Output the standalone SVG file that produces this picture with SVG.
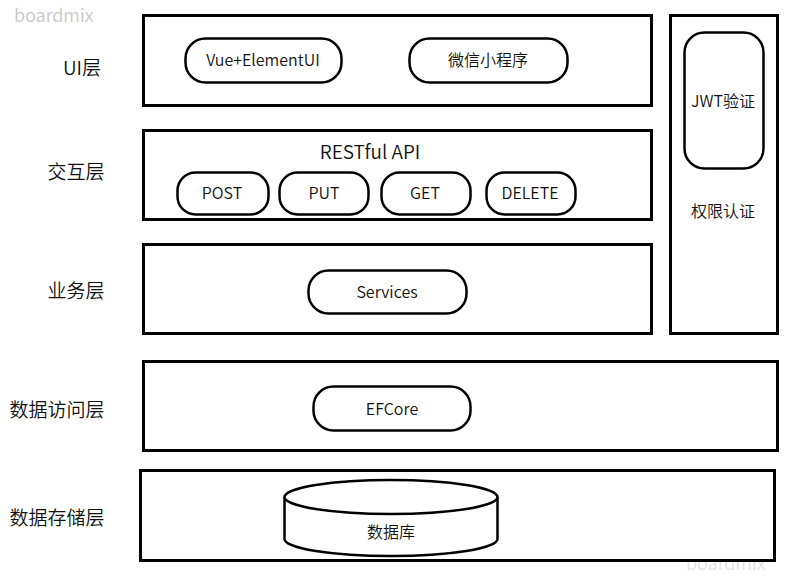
<svg xmlns="http://www.w3.org/2000/svg" width="793" height="577" viewBox="0 0 793 577">
<style>
.layer{fill:#fff;stroke:#000;stroke-width:3}
.pill{fill:#fff;stroke:#000;stroke-width:2.5}
text{font-family:"Noto Sans CJK SC","Noto Sans",sans-serif;font-weight:350;fill:#111;text-anchor:middle;dominant-baseline:central}
.lbl{font-size:19px}
.t{font-size:16px}
.wm{font-size:18px;fill:#c8c8c8;text-anchor:start}
</style>
<rect width="793" height="577" fill="#fff"/>
<text class="wm" x="14" y="14">boardmix</text>
<text class="wm" x="686" y="562" style="fill:#e2e2e2">boardmix</text>

<g id="label-ui"><text class="lbl" x="82" y="66">UI层</text></g>
<g id="label-interact"><text class="lbl" x="76" y="170">交互层</text></g>
<g id="label-biz"><text class="lbl" x="76" y="289">业务层</text></g>
<g id="label-dal"><text class="lbl" x="57" y="408">数据访问层</text></g>
<g id="label-store"><text class="lbl" x="57" y="516">数据存储层</text></g>

<g id="layer-ui"><rect class="layer" x="143.5" y="15.5" width="508" height="90"/></g>
<g id="layer-interact"><rect class="layer" x="143.5" y="130.5" width="508" height="89"/>
<text x="370" y="150" style="font-size:19px">RESTful API</text></g>
<g id="layer-biz"><rect class="layer" x="143.5" y="244.5" width="508" height="89"/></g>
<g id="layer-auth"><rect class="layer" x="670.5" y="15.5" width="107" height="318"/>
<text class="t" x="723" y="210">权限认证</text></g>
<g id="layer-dal"><rect class="layer" x="143.5" y="361.5" width="634" height="89"/></g>
<g id="layer-store"><rect class="layer" x="140.5" y="470.5" width="634" height="90"/></g>

<g id="vue"><rect class="pill" x="185.5" y="38.5" width="156" height="44" rx="20"/><text class="t" x="263" y="59">Vue+ElementUI</text></g>
<g id="wechat"><rect class="pill" x="409.5" y="38.5" width="158" height="44" rx="20"/><text class="t" x="488" y="59">微信小程序</text></g>
<g id="post"><rect class="pill" x="177.5" y="172.5" width="91" height="42" rx="18"/><text class="t" x="222" y="192">POST</text></g>
<g id="put"><rect class="pill" x="279.5" y="172.5" width="89" height="42" rx="18"/><text class="t" x="324" y="192">PUT</text></g>
<g id="get"><rect class="pill" x="381.5" y="172.5" width="89" height="42" rx="18"/><text class="t" x="425" y="192">GET</text></g>
<g id="delete"><rect class="pill" x="486.5" y="172.5" width="89" height="42" rx="18"/><text class="t" x="530" y="192">DELETE</text></g>
<g id="services"><rect class="pill" x="308.5" y="270.5" width="158" height="43" rx="20"/><text class="t" x="387" y="291">Services</text></g>
<g id="jwt"><rect class="pill" x="684.5" y="32.5" width="79" height="136" rx="20"/><text class="t" x="723" y="100">JWT验证</text></g>
<g id="efcore"><rect class="pill" x="313.5" y="386.5" width="157" height="44" rx="20"/><text class="t" x="392" y="408">EFCore</text></g>
<g id="db">
<path class="pill" d="M284.5,497 A106.5,17 0 0 1 497.5,497 L497.5,539 A106.5,17 0 0 1 284.5,539 Z"/>
<path class="pill" fill="none" d="M284.5,497 A106.5,17 0 0 0 497.5,497"/>
<text class="t" x="391" y="531">数据库</text></g>
<g id="connectors"></g>
</svg>
